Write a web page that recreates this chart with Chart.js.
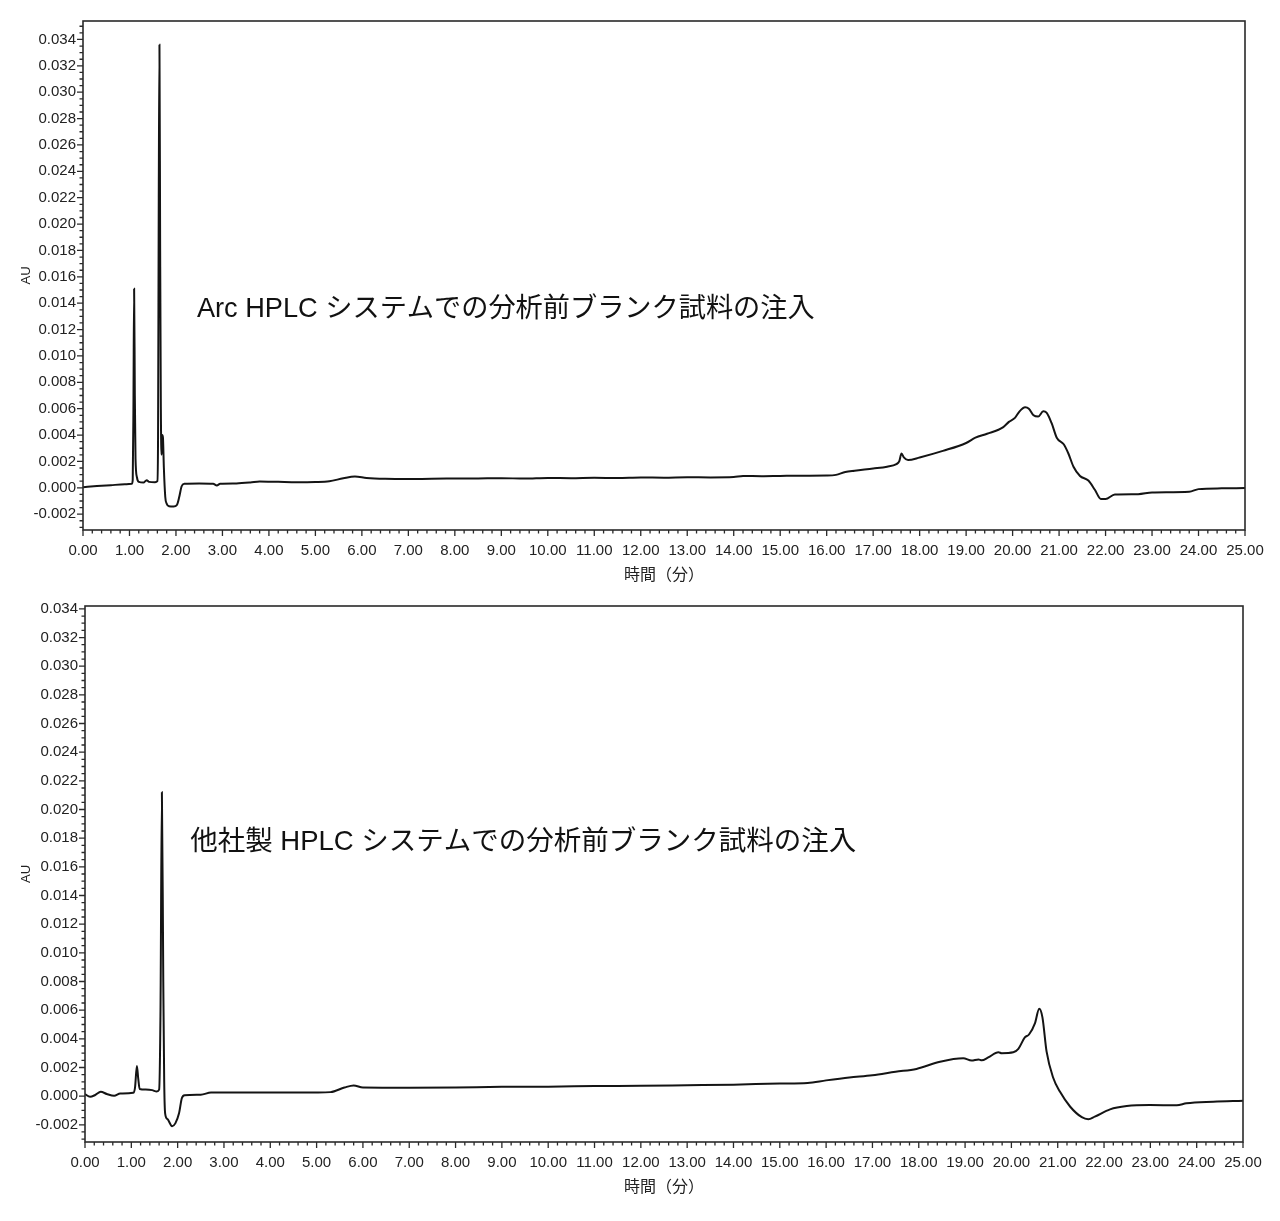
<!DOCTYPE html>
<html><head><meta charset="utf-8">
<script src="https://cdn.jsdelivr.net/npm/chart.js@4/dist/chart.umd.min.js"></script>
<style>html,body{margin:0;padding:0;background:#fff;}canvas{display:block;}</style>
</head><body>
<canvas id="c1" width="1280" height="590"></canvas>
<canvas id="c2" width="1280" height="631"></canvas>
<script>
// ---- data ----
const timeArc = [0.00,0.30,0.60,0.90,1.05,1.07,1.085,1.10,1.115,1.13,1.16,1.20,1.30,1.37,1.42,1.55,1.60,1.615,1.63,1.645,1.66,1.675,1.69,1.705,1.72,1.74,1.77,1.80,1.85,1.95,2.02,2.07,2.12,2.18,2.50,2.80,2.88,2.95,3.30,3.60,3.80,4.20,4.60,5.00,5.30,5.60,5.85,6.10,6.50,7.00,7.50,8.00,8.50,9.00,9.50,10.00,10.50,11.00,11.50,12.00,12.50,13.00,13.50,14.00,14.20,14.60,15.00,15.50,16.00,16.20,16.40,16.60,17.00,17.30,17.50,17.56,17.61,17.66,17.75,18.00,18.50,19.00,19.20,19.45,19.80,19.92,20.05,20.15,20.27,20.35,20.45,20.55,20.66,20.73,20.84,20.95,21.10,21.20,21.31,21.45,21.63,21.77,21.90,22.00,22.20,22.70,23.00,23.80,24.00,24.50,25.00];
const auArc = [0.00005,0.00013,0.0002,0.00026,0.0003,0.0006,0.006,0.0151,0.007,0.0022,0.0008,0.00045,0.0004,0.00058,0.00045,0.00042,0.0005,0.004,0.022,0.0336,0.018,0.006,0.0025,0.0040,0.0038,0.0015,-0.0007,-0.0012,-0.0014,-0.00142,-0.0013,-0.0007,0.0001,0.0003,0.00032,0.0003,0.00018,0.0003,0.00033,0.0004,0.00048,0.00045,0.00042,0.00044,0.0005,0.00072,0.00085,0.00075,0.00068,0.00066,0.00069,0.0007,0.00071,0.00073,0.0007,0.00075,0.00073,0.00076,0.00074,0.00078,0.00077,0.0008,0.00079,0.00082,0.0009,0.00088,0.0009,0.00092,0.00093,0.00098,0.0012,0.0013,0.00146,0.0016,0.0018,0.002,0.0026,0.0023,0.0021,0.0023,0.0028,0.0034,0.0038,0.0041,0.0046,0.0050,0.0053,0.0058,0.0061,0.0060,0.0055,0.0054,0.0058,0.0057,0.0049,0.0038,0.0033,0.0026,0.0016,0.0009,0.00055,-0.00015,-0.00085,-0.00085,-0.0005,-0.00048,-0.00035,-0.0003,-0.0001,-0.00004,-0.00002];

const timeOther = [0.00,0.11,0.22,0.34,0.47,0.63,0.76,1.04,1.08,1.12,1.15,1.18,1.31,1.45,1.55,1.60,1.63,1.66,1.69,1.71,1.73,1.78,1.88,1.95,2.03,2.09,2.15,2.50,2.72,3.10,4.20,5.00,5.30,5.60,5.80,6.00,7.00,8.00,9.00,10.00,11.00,12.00,13.00,14.00,15.00,15.60,16.00,16.50,17.00,17.50,17.95,18.46,18.96,19.14,19.29,19.36,19.50,19.72,19.79,20.04,20.15,20.29,20.38,20.51,20.60,20.67,20.76,20.90,21.05,21.27,21.52,21.66,21.80,22.13,22.49,22.99,23.57,23.78,24.36,25.00];
const auOther = [0.00014,-0.00005,0.00008,0.0003,0.00015,0.00003,0.00018,0.00023,0.0006,0.0021,0.0012,0.0005,0.00046,0.00042,0.00032,0.00045,0.006,0.0212,0.008,0.001,-0.0012,-0.0016,-0.0021,-0.0019,-0.0012,-0.00015,0.00007,0.0001,0.00025,0.00025,0.00025,0.00026,0.00028,0.0006,0.00075,0.0006,0.00058,0.0006,0.00065,0.00066,0.0007,0.00072,0.00076,0.0008,0.00088,0.00092,0.0011,0.0013,0.00145,0.0017,0.0019,0.0024,0.00264,0.00248,0.00256,0.0025,0.0027,0.00306,0.0030,0.00306,0.0033,0.0041,0.0043,0.0051,0.0061,0.0055,0.0031,0.0013,0.0003,-0.00074,-0.00147,-0.00161,-0.00143,-0.00092,-0.00069,-0.00062,-0.00064,-0.0005,-0.00039,-0.00032];

const xTickValues = [0,1,2,3,4,5,6,7,8,9,10,11,12,13,14,15,16,17,18,19,20,21,22,23,24,25];
const yTickValues = [-0.002,0,0.002,0.004,0.006,0.008,0.010,0.012,0.014,0.016,0.018,0.020,0.022,0.024,0.026,0.028,0.030,0.032,0.034];
const xAxisTitle = '時間（分）';
const yAxisTitle = 'AU';
const labelArc = 'Arc HPLC システムでの分析前ブランク試料の注入';
const labelOther = '他社製 HPLC システムでの分析前ブランク試料の注入';

// ---- styling ----
const FONT = '"Liberation Sans", Arial, "Noto Sans CJK JP", sans-serif';
Chart.defaults.font.family = FONT;
Chart.defaults.color = '#222';

const framePlugin = {
  id: 'frame',
  afterDraw(chart, args, o) {
    const {ctx, chartArea: a, scales: {x, y}} = chart;
    ctx.save();
    ctx.strokeStyle = '#2a2a2a';
    ctx.lineWidth = 1.6;
    ctx.strokeRect(a.left, a.top, a.right - a.left, a.bottom - a.top);
    ctx.lineWidth = 1.3;
    ctx.beginPath();
    const xs = 0.2, nx = Math.round((x.max - x.min) / xs);
    for (let i = 0; i <= nx; i++) {
      const px = x.getPixelForValue(x.min + i * xs);
      const len = i % 5 === 0 ? 6 : 3.5;
      ctx.moveTo(px, a.bottom); ctx.lineTo(px, a.bottom + len);
    }
    const ys = 0.0005;
    for (let k = Math.ceil(y.min / ys - 1e-9); k * ys <= y.max + 1e-12; k++) {
      const py = y.getPixelForValue(k * ys);
      const len = k % 4 === 0 ? 6 : 3.5;
      ctx.moveTo(a.left, py); ctx.lineTo(a.left - len, py);
    }
    ctx.stroke();
    ctx.font = o.font;
    ctx.fillStyle = '#111';
    ctx.textAlign = 'left';
    ctx.textBaseline = 'middle';
    ctx.fillText(o.text, x.getPixelForValue(o.x), y.getPixelForValue(o.y));
    ctx.restore();
  }
};

function makeChart(id, times, values, cfg) {
  const pts = times.map((t, i) => ({x: t, y: values[i]}));
  return new Chart(document.getElementById(id), {
    type: 'line',
    data: {datasets: [{data: pts, borderColor: '#141414', borderWidth: 2, pointRadius: 0, fill: false, cubicInterpolationMode: 'monotone'}]},
    options: {
      responsive: false, animation: false, devicePixelRatio: 1,
      layout: {padding: cfg.padding},
      plugins: {legend: {display: false}, tooltip: {enabled: false}, frame: cfg.note},
      scales: {
        x: {
          type: 'linear', min: 0, max: 25,
          afterBuildTicks: s => { s.ticks = xTickValues.map(v => ({value: v})); },
          afterFit: s => { s.height = 60; },
          grid: {display: false, drawTicks: false}, border: {display: false},
          ticks: {padding: 12, font: {size: 15}, maxRotation: 0, autoSkip: false, callback: v => Number(v).toFixed(2)},
          title: {display: true, text: xAxisTitle, font: {size: 16, family: '"Noto Sans CJK JP", ' + FONT}, padding: {top: 0, bottom: 6}, color: '#222'}
        },
        y: {
          type: 'linear', min: cfg.ymin, max: cfg.ymax,
          afterBuildTicks: s => { s.ticks = yTickValues.map(v => ({value: v})); },
          afterFit: s => { s.width = cfg.yw; },
          grid: {display: false, drawTicks: false}, border: {display: false},
          ticks: {padding: 7, font: {size: 15}, autoSkip: false, callback: v => Number(v).toFixed(3)},
          title: {display: true, text: yAxisTitle, font: {size: 13}, padding: {top: 19, bottom: 0}, color: '#222'}
        }
      }
    },
    plugins: [framePlugin]
  });
}

makeChart('c1', timeArc, auArc, {
  padding: {top: 21, right: 35, left: 0, bottom: 0}, yw: 83, ymin: -0.0032, ymax: 0.0354,
  note: {text: labelArc, x: 2.45, y: 0.01355, font: '27.2px "Liberation Sans", Arial, "Noto Sans CJK JP", sans-serif'}
});
makeChart('c2', timeOther, auOther, {
  padding: {top: 10, right: 37, left: 0, bottom: 19}, yw: 85, ymin: -0.0032, ymax: 0.0342,
  note: {text: labelOther, x: 2.27, y: 0.0177, font: '27.5px "Liberation Sans", Arial, "Noto Sans CJK JP", sans-serif'}
});
</script>
</body></html>
